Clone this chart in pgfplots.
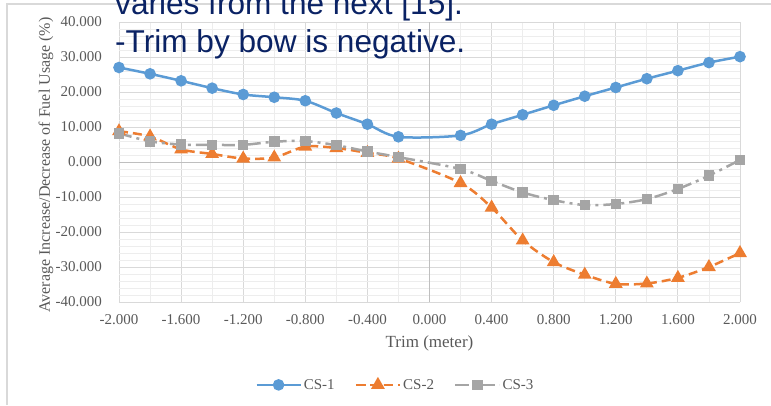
\documentclass[border=0pt]{standalone}
\usepackage{pgfplots}
\pgfplotsset{compat=1.18}
\usepackage{fontspec}
\setmainfont{Liberation Serif}
\newfontfamily\arial{Liberation Sans}
\definecolor{cs1}{HTML}{5B9BD5}
\definecolor{cs2}{HTML}{ED7D31}
\definecolor{cs3}{HTML}{A5A5A5}
\definecolor{txt}{HTML}{595959}
\definecolor{navy}{RGB}{10,34,100}
\begin{document}
\begin{tikzpicture}
\path[use as bounding box] (0,0) rectangle (771pt,-405pt);
\clip (0,0) rectangle (771pt,-405pt);
\draw[color=black!15, line width=1.5pt] (7pt,-405pt) -- (7pt,-4pt) -- (771pt,-4pt);
\begin{axis}[
 scale only axis, width=621pt, height=280pt,
 at={(119pt,-302pt)}, anchor=south west,
 xmin=-2, xmax=2, ymin=-40, ymax=40,
 xtick={-2,-1.6,-1.2,-0.8,-0.4,0,0.4,0.8,1.2,1.6,2},
 minor xtick={-1.8,-1.4,-1,-0.6,-0.2,0.2,0.6,1,1.4,1.8},
 ytick={-40,-30,-20,-10,0,10,20,30,40},
 minor y tick num=4,
 grid=both,
 major grid style={draw=black!15, line width=0.9pt},
 minor grid style={draw=black!7, line width=0.9pt},
 axis line style={draw=none},
 major tick length=0pt, minor tick length=0pt,
 /pgf/number format/assume math mode=true,
 tick label style={font=\fontsize{15}{18}\selectfont, text=txt},
 xticklabel style={anchor=north, inner sep=0pt, yshift=-12pt,
   /pgf/number format/fixed, /pgf/number format/fixed zerofill, /pgf/number format/precision=3},
 yticklabel style={anchor=east, inner sep=0pt, xshift=-17pt,
   /pgf/number format/fixed, /pgf/number format/fixed zerofill, /pgf/number format/precision=3},
 xlabel={Trim (meter)},
 xlabel style={at={(axis description cs:0.5,0)}, anchor=base, yshift=-45pt, font=\fontsize{17}{20}\selectfont, text=txt},
 ylabel={Average Increase/Decrease of Fuel Usage (\%)},
 ylabel style={at={(axis description cs:-0.1176,0.489)}, anchor=center, font=\fontsize{16}{19}\selectfont, text=txt},
 legend style={at={(axis description cs:0.445,-0.296)}, anchor=center, draw=none, fill=none,
   legend columns=3, font=\fontsize{15}{18}\selectfont, text=txt,
   /tikz/every even column/.append style={column sep=18pt}},
 legend image code/.code={\draw[mark repeat=2,mark phase=2] plot coordinates {(0pt,0pt)(22pt,0pt)(44pt,0pt)};},
]
\draw[color=black!25, line width=1pt] (axis cs:-2,0) -- (axis cs:2,0);
\draw[color=black!25, line width=1pt] (axis cs:0,-40) -- (axis cs:0,40);
\addplot[color=cs1, line width=2.5pt, smooth, mark=*, mark size=4.5pt, mark options={solid, fill=cs1}] coordinates {
(-2,27.0)(-1.8,25.2)(-1.6,23.2)(-1.4,21.1)(-1.2,19.3)(-1.0,18.5)(-0.8,17.5)(-0.6,14.0)(-0.4,10.8)(-0.2,7.2)
(0.2,7.6)(0.4,10.8)(0.6,13.5)(0.8,16.2)(1.0,18.8)(1.2,21.3)(1.4,23.8)(1.6,26.1)(1.8,28.4)(2.0,30.1)};
\addlegendentry{CS-1}
\addplot[color=cs2, line width=2.5pt, smooth, dash pattern=on 9pt off 5pt, mark=triangle*, mark size=5.5pt, mark options={solid, fill=cs2}] coordinates {
(-2,8.8)(-1.8,7.3)(-1.6,3.6)(-1.4,2.3)(-1.2,1.0)(-1.0,1.3)(-0.8,4.4)(-0.6,4.0)(-0.4,2.6)(-0.2,1.0)
(0.2,-6.0)(0.4,-13.0)(0.6,-22.4)(0.8,-28.6)(1.0,-32.2)(1.2,-34.8)(1.4,-34.7)(1.6,-33.1)(1.8,-30.0)(2.0,-26.0)};
\addlegendentry{CS-2}
\addplot[color=cs3, line width=2.5pt, smooth, dash pattern=on 13pt off 5pt on 3pt off 5pt, mark=square*, mark size=4pt, mark options={solid, fill=cs3}] coordinates {
(-2,8.2)(-1.8,5.9)(-1.6,5.0)(-1.4,4.9)(-1.2,4.9)(-1.0,5.8)(-0.8,6.0)(-0.6,4.8)(-0.4,3.0)(-0.2,1.4)
(0.2,-2.0)(0.4,-5.4)(0.6,-8.7)(0.8,-10.9)(1.0,-12.3)(1.2,-12.0)(1.4,-10.6)(1.6,-7.7)(1.8,-3.9)(2.0,0.6)};
\addlegendentry{CS-3}
\end{axis}
\node[anchor=base west, font=\arial\fontsize{31.6}{36}\selectfont, text=navy, inner sep=0pt] at (115pt,-14pt) {varies from the next [15].};
\node[anchor=base west, font=\arial\fontsize{31.6}{36}\selectfont, text=navy, inner sep=0pt] at (115pt,-52pt) {-Trim by bow is negative.};
\end{tikzpicture}
\end{document}
